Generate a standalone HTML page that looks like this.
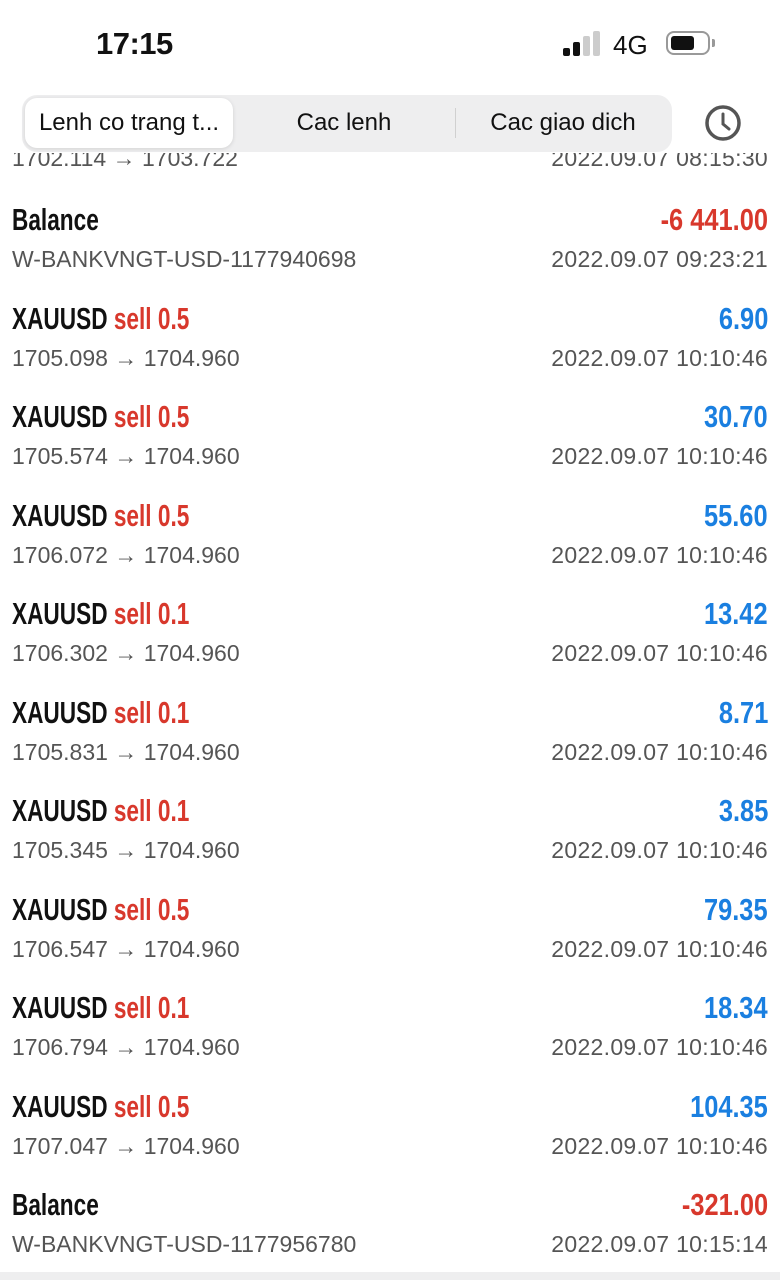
<!DOCTYPE html>
<html><head><meta charset="utf-8"><style>
body{margin:0;width:780px;height:1280px;overflow:hidden;background:#fff;font-family:"Liberation Sans",sans-serif;position:relative}
.abs{position:absolute}
.t{font-family:"Liberation Sans Narrow","Liberation Sans",sans-serif;font-weight:bold;font-size:31px;line-height:34px;white-space:nowrap}
.tl{left:12px;transform:scaleX(0.73);transform-origin:left center;color:#111}
.tr{right:12px;transform:scaleX(0.82);transform-origin:right center}
.s{font-size:23px;line-height:28px;color:#555;white-space:nowrap}
.sl{left:12px}.sr{right:12px;letter-spacing:0.3px}
.red{color:#d8382c}.blue{color:#1a7fe0}
</style></head><body>
<div class="abs s sl" style="top:144px">1702.114 → 1703.722</div>
<div class="abs s sr" style="top:144px">2022.09.07 08:15:30</div>
<div class="abs" style="left:0;top:0;width:780px;height:153px;background:#fff"></div>
<div class="abs" style="left:96px;top:26px;font-size:31px;font-weight:bold;letter-spacing:-0.5px;color:#111">17:15</div>
<div class="abs" style="left:563px;top:48px;width:7px;height:8px;background:#111;border-radius:2px"></div>
<div class="abs" style="left:573px;top:42px;width:7px;height:14px;background:#111;border-radius:2px"></div>
<div class="abs" style="left:583px;top:36px;width:7px;height:20px;background:#ccc;border-radius:2px"></div>
<div class="abs" style="left:593px;top:31px;width:7px;height:25px;background:#ccc;border-radius:2px"></div>
<div class="abs" style="left:613px;top:30px;font-size:26px;color:#111">4G</div>
<div class="abs" style="left:666px;top:31px;width:44px;height:24px;border:2px solid #999;border-radius:8px;box-sizing:border-box"><div style="margin:3px;width:23px;height:14px;background:#111;border-radius:3px"></div></div>
<div class="abs" style="left:712px;top:39px;width:3px;height:8px;background:#999;border-radius:0 2px 2px 0"></div>
<div class="abs" style="left:22px;top:95px;width:650px;height:57px;background:#eeeeef;border-radius:15px"></div>
<div class="abs" style="left:25px;top:98px;width:208px;height:50px;background:#fff;border-radius:12px;box-shadow:0 1px 4px rgba(0,0,0,0.12);font-size:24px;line-height:50px;text-align:center;color:#111">Lenh co trang t...</div>
<div class="abs" style="left:233px;top:98px;width:222px;height:50px;font-size:24px;line-height:50px;text-align:center;color:#111">Cac lenh</div>
<div class="abs" style="left:455px;top:108px;width:1px;height:30px;background:#d0d0d0"></div>
<div class="abs" style="left:456px;top:98px;width:214px;height:50px;font-size:24px;line-height:50px;text-align:center;color:#111">Cac giao dich</div>
<svg class="abs" style="left:703px;top:103px" width="40" height="40"><circle cx="20" cy="20" r="16" fill="none" stroke="#555" stroke-width="3.5"/><path d="M20 11 V21 L26 26" fill="none" stroke="#555" stroke-width="3" stroke-linecap="round"/></svg>
<div id="list"></div>
<div class="abs" style="left:0;top:1272px;width:780px;height:8px;background:#eeeeef"></div>
<script>
const titles=["Balance","XAUUSD","XAUUSD","XAUUSD","XAUUSD","XAUUSD","XAUUSD","XAUUSD","XAUUSD","XAUUSD","Balance"];
const sides=["","sell 0.5","sell 0.5","sell 0.5","sell 0.1","sell 0.1","sell 0.1","sell 0.5","sell 0.1","sell 0.5",""];
const subs=["W-BANKVNGT-USD-1177940698","1705.098 → 1704.960","1705.574 → 1704.960","1706.072 → 1704.960","1706.302 → 1704.960","1705.831 → 1704.960","1705.345 → 1704.960","1706.547 → 1704.960","1706.794 → 1704.960","1707.047 → 1704.960","W-BANKVNGT-USD-1177956780"];
const amounts=["-6 441.00","6.90","30.70","55.60","13.42","8.71","3.85","79.35","18.34","104.35","-321.00"];
const dates=["2022.09.07 09:23:21","2022.09.07 10:10:46","2022.09.07 10:10:46","2022.09.07 10:10:46","2022.09.07 10:10:46","2022.09.07 10:10:46","2022.09.07 10:10:46","2022.09.07 10:10:46","2022.09.07 10:10:46","2022.09.07 10:10:46","2022.09.07 10:15:14"];
const list=document.getElementById('list');
titles.forEach((t,i)=>{
  const y=220+i*98.5;
  const a=document.createElement('div');a.className='abs t tl';a.style.top=(y-17)+'px';
  
  
  a.innerHTML=t+(sides[i]?' <span class="red">'+sides[i]+'</span>':'');list.appendChild(a);
  const b=document.createElement('div');b.className='abs t tr '+(amounts[i].startsWith('-')?'red':'blue');b.style.top=(y-17)+'px';
  
  
  b.textContent=amounts[i];list.appendChild(b);
  const c=document.createElement('div');c.className='abs s sl';c.style.top=(y+25)+'px';
  
  
  c.textContent=subs[i];list.appendChild(c);
  const d=document.createElement('div');d.className='abs s sr';d.style.top=(y+25)+'px';
  
  
  d.textContent=dates[i];list.appendChild(d);
});
</script>
</body></html>
